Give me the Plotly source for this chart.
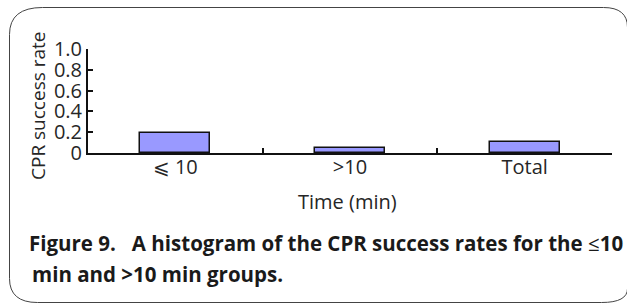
import plotly.graph_objects as go

# ---- data ----
categories = ["⩽ 10", ">10", "Total"]
success_rate = [0.19, 0.05, 0.11]
y_tick_values = [0, 0.2, 0.4, 0.6, 0.8, 1.0]
y_tick_labels = ["0", "0.2", "0.4", "0.6", "0.8", "1.0"]
y_title = "CPR success rate"
x_title = "Time (min)"
caption_line1 = "Figure 9.   A histogram of the CPR success rates for the <span style='font-weight:normal'>≤</span>10"
caption_line2 = "min and >10 min groups."

# ---- geometry (pixels) ----
W, H = 627, 305
L, R, T, B = 88, 612, 49, 153   # plot area in px


def px(x):
    return (x - L) / (R - L)


def py(y):
    return (B - y) / (B - T)


FONT = "Open Sans, Noto Sans, DejaVu Sans, sans-serif"
TXT = "#262626"

xpos = list(range(len(categories)))

fig = go.Figure()
fig.add_trace(go.Bar(
    x=xpos, y=success_rate, width=0.4,
    marker=dict(color="#9999FF", line=dict(color="#111111", width=1.5)),
    xaxis="x", yaxis="y", showlegend=False,
))
# invisible trace to activate label axis
fig.add_trace(go.Scatter(x=xpos, y=[0] * len(xpos), mode="markers",
                         marker=dict(opacity=0), xaxis="x2", yaxis="y",
                         showlegend=False, hoverinfo="skip"))

fig.update_layout(
    width=W, height=H,
    margin=dict(l=L, r=W - R, t=T, b=H - B, pad=0),
    paper_bgcolor="white", plot_bgcolor="white",
    font=dict(family=FONT, size=20, color=TXT),
    bargap=0,
    xaxis=dict(
        range=[-0.5, len(categories) - 0.5], tickmode="array",
        tickvals=[i + 0.5 for i in range(len(categories) - 1)],
        showticklabels=False, ticks="inside", ticklen=5, tickwidth=1.5,
        tickcolor="#111111", showline=True, linecolor="#111111", linewidth=2,
        showgrid=False, zeroline=False,
    ),
    xaxis2=dict(
        range=[-0.5, len(categories) - 0.5], overlaying="x", side="bottom",
        tickmode="array", tickvals=xpos, ticktext=categories, ticks="",
        showline=False, showgrid=False, zeroline=False,
        tickfont=dict(family=FONT, size=20, color=TXT),
    ),
    yaxis=dict(
        range=[0, 1.0], tickmode="array", tickvals=y_tick_values,
        ticktext=y_tick_labels, ticks="inside", ticklen=5, tickwidth=1.5,
        tickcolor="#111111", showline=True, linecolor="#111111", linewidth=2,
        showgrid=False, zeroline=False,
        tickfont=dict(family=FONT, size=20, color=TXT),
    ),
)

# axis titles
fig.add_annotation(text=y_title, xref="paper", yref="paper",
                   x=px(38), y=py(106), showarrow=False, textangle=-90,
                   xanchor="center", yanchor="middle",
                   font=dict(family=FONT, size=19, color=TXT))
fig.add_annotation(text=x_title, xref="paper", yref="paper",
                   x=px(347.5), y=py(201), showarrow=False,
                   xanchor="center", yanchor="middle",
                   font=dict(family=FONT, size=20, color=TXT))

# caption
fig.add_annotation(text="<b>" + caption_line1 + "</b>", xref="paper", yref="paper",
                   x=px(27), y=py(243), showarrow=False, xanchor="left",
                   yanchor="middle", align="left",
                   font=dict(family=FONT, size=20.5, color="#1a1a1a"))
fig.add_annotation(text="<b>" + caption_line2 + "</b>", xref="paper", yref="paper",
                   x=px(30), y=py(274), showarrow=False, xanchor="left",
                   yanchor="middle", align="left",
                   font=dict(family=FONT, size=20.5, color="#1a1a1a"))

# rounded border
x0, x1, y0, y1 = 9.5, 627.5, 7.5, 302.5
path = (
    f"M {px(x0)},{py(y0 + 27)} "
    f"Q {px(x0)},{py(y0)} {px(x0 + 33)},{py(y0)} "
    f"L {px(x1 - 24)},{py(y0)} "
    f"Q {px(x1)},{py(y0)} {px(x1)},{py(y0 + 20)} "
    f"L {px(x1)},{py(y1 - 14)} "
    f"Q {px(x1)},{py(y1)} {px(x1 - 26)},{py(y1)} "
    f"L {px(x0 + 28)},{py(y1)} "
    f"Q {px(x0)},{py(y1)} {px(x0)},{py(y1 - 24)} Z"
)
fig.add_shape(type="path", path=path, xref="paper", yref="paper",
              line=dict(color="#444444", width=1), fillcolor="rgba(0,0,0,0)",
              layer="below")

fig.write_html(
    "out.html",
    config={"displayModeBar": False},
    post_script="document.body.style.margin='0';document.body.style.overflow='hidden';",
)
